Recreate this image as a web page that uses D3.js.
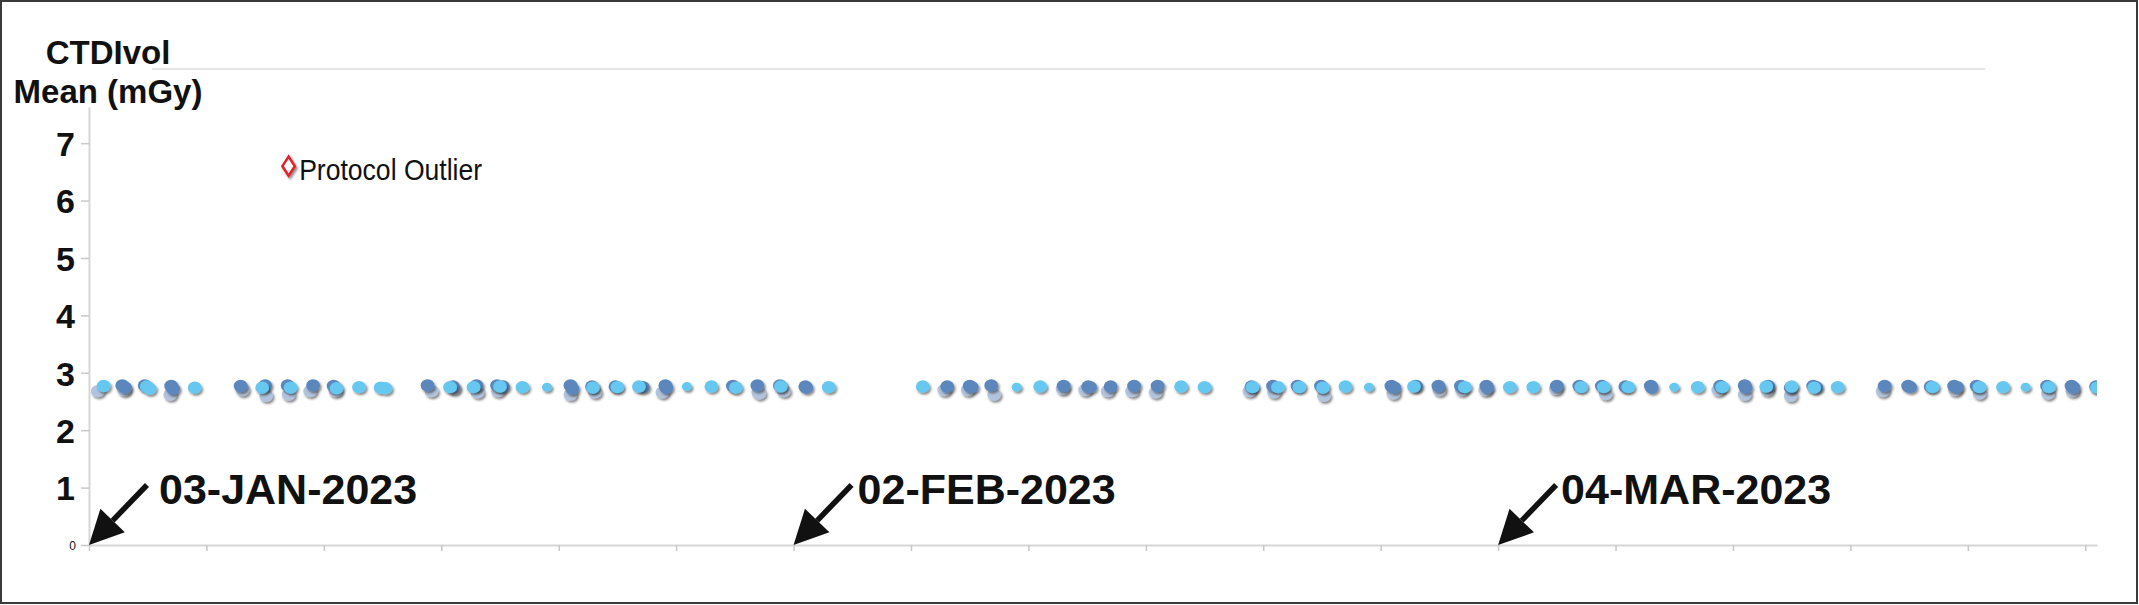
<!DOCTYPE html>
<html>
<head>
<meta charset="utf-8">
<script src="https://cdn.jsdelivr.net/npm/d3@7"></script>
<style>
  html, body { margin: 0; padding: 0; background: #fff; }
  svg { display: block; font-family: "Liberation Sans", Arial, Helvetica, sans-serif; }
</style>
</head>
<body>
<svg id="chart" width="2139" height="605"></svg>
<script>
// ---------------- data ----------------
const yTitleLines = ["CTDIvol", "Mean (mGy)"];
const yTickValues = [0, 1, 2, 3, 4, 5, 6, 7];
const xDomain = ["2023-01-03T00:00", "2023-03-29T12:00"];
const dateMarks = [
  { date: "2023-01-03", label: "03-JAN-2023" },
  { date: "2023-02-02", label: "02-FEB-2023" },
  { date: "2023-03-04", label: "04-MAR-2023" }
];
const outliers = [
  { time: "2023-01-11T12:00", value: 6.6, label: "Protocol Outlier" }
];
// [time, CTDIvol mean, exams (optional)]
const seriesPale = [
  ["2023-01-03T09:00",2.68],["2023-01-04T12:00",2.70],["2023-01-06T11:00",2.62],["2023-01-09T13:00",2.70],
  ["2023-01-10T13:00",2.60],["2023-01-11T12:00",2.62],["2023-01-12T10:00",2.68],["2023-01-13T12:00",2.68],
  ["2023-01-17T14:00",2.68],["2023-01-18T13:00",2.72],["2023-01-19T13:00",2.66],["2023-01-20T10:00",2.68],
  ["2023-01-23T12:00",2.62],["2023-01-24T13:00",2.66],["2023-01-27T10:00",2.66],["2023-01-31T13:00",2.64],
  ["2023-01-31T12:00",2.66],["2023-02-01T14:00",2.68],["2023-02-08T10:00",2.70],["2023-02-09T10:00",2.70],
  ["2023-02-10T13:00",2.62],["2023-02-13T11:00",2.72],["2023-02-14T10:00",2.70],["2023-02-15T09:00",2.68],
  ["2023-02-16T10:00",2.68],["2023-02-17T10:00",2.66],["2023-02-21T10:00",2.68],["2023-02-22T11:00",2.66],
  ["2023-02-24T14:00",2.60],["2023-02-27T13:00",2.64],["2023-03-01T12:00",2.70],["2023-03-02T11:00",2.70],
  ["2023-03-03T11:00",2.70],["2023-03-06T11:00",2.72],["2023-03-08T14:00",2.63],["2023-03-13T09:00",2.70],
  ["2023-03-14T12:00",2.62],["2023-03-15T11:00",2.70],["2023-03-16T11:00",2.60],["2023-03-20T09:00",2.68],
  ["2023-03-23T11:00",2.70],["2023-03-24T12:00",2.64],["2023-03-27T10:00",2.64],["2023-03-28T11:00",2.68]
];
const seriesSteel = [
  ["2023-01-04T10:00",2.78],["2023-01-04T13:00",2.74],["2023-01-05T09:00",2.78],["2023-01-06T12:00",2.77],
  ["2023-01-06T14:00",2.72],["2023-01-09T11:00",2.77],["2023-01-10T12:00",2.78],["2023-01-11T11:00",2.78],
  ["2023-01-12T13:00",2.78],["2023-01-13T10:00",2.77],["2023-01-17T10:00",2.78],["2023-01-18T12:00",2.76],
  ["2023-01-19T12:00",2.78],["2023-01-20T09:00",2.78],["2023-01-20T15:00",2.76],["2023-01-23T12:00",2.78],
  ["2023-01-23T14:00",2.72],["2023-01-24T10:00",2.76],["2023-01-25T10:00",2.76],["2023-01-26T14:00",2.75],
  ["2023-01-27T13:00",2.78],["2023-01-27T14:00",2.74],["2023-01-30T10:00",2.77],["2023-01-31T11:00",2.78],
  ["2023-02-01T10:00",2.78],["2023-02-02T12:00",2.76],["2023-02-02T13:00",2.74],["2023-02-08T13:00",2.76],
  ["2023-02-09T12:00",2.77],["2023-02-09T14:00",2.75],["2023-02-10T10:00",2.78],["2023-02-13T12:00",2.77],
  ["2023-02-14T13:00",2.76],["2023-02-14T15:00",2.75],["2023-02-15T12:00",2.76],["2023-02-16T12:00",2.77],
  ["2023-02-17T12:00",2.77],["2023-02-21T12:00",2.76],["2023-02-22T10:00",2.77],["2023-02-23T11:00",2.77],
  ["2023-02-24T11:00",2.77],["2023-02-27T11:00",2.77],["2023-02-27T14:00",2.74],["2023-02-28T12:00",2.77],
  ["2023-03-01T11:00",2.77],["2023-03-02T10:00",2.77],["2023-03-03T12:00",2.77],["2023-03-03T13:00",2.74],
  ["2023-03-06T12:00",2.77],["2023-03-07T11:00",2.77],["2023-03-08T10:00",2.77],["2023-03-09T10:00",2.76],
  ["2023-03-10T12:00",2.77],["2023-03-10T13:00",2.74],["2023-03-13T11:00",2.77],["2023-03-14T12:00",2.78],
  ["2023-03-14T13:00",2.74],["2023-03-15T12:00",2.77],["2023-03-16T11:00",2.74],["2023-03-17T10:00",2.77],
  ["2023-03-17T13:00",2.75],["2023-03-20T11:00",2.77],["2023-03-21T11:00",2.77],["2023-03-21T13:00",2.75],
  ["2023-03-22T10:00",2.76],["2023-03-23T10:00",2.77],["2023-03-23T13:00",2.75],["2023-03-24T09:00",2.77],
  ["2023-03-27T09:00",2.77],["2023-03-28T10:00",2.77],["2023-03-28T12:00",2.74],["2023-03-29T11:00",2.76]
];
const seriesCyan = [
  ["2023-01-03T15:00",2.77],["2023-01-05T11:00",2.76],["2023-01-05T14:00",2.72],["2023-01-07T12:00",2.74],
  ["2023-01-10T09:00",2.74],["2023-01-11T14:00",2.74],["2023-01-13T13:00",2.73],["2023-01-14T12:00",2.75],
  ["2023-01-15T10:00",2.74],["2023-01-15T15:00",2.73],["2023-01-18T09:00",2.75],["2023-01-19T09:00",2.75],
  ["2023-01-20T12:00",2.76],["2023-01-21T11:00",2.75],["2023-01-22T12:00",2.75,1],["2023-01-24T11:00",2.74],
  ["2023-01-25T12:00",2.75],["2023-01-26T10:00",2.76],["2023-01-28T11:00",2.76,1],["2023-01-29T12:00",2.76],
  ["2023-01-30T13:00",2.74],["2023-02-01T11:00",2.76],["2023-02-03T12:00",2.75],["2023-02-07T12:00",2.76],
  ["2023-02-11T12:00",2.75,1],["2023-02-12T12:00",2.76],["2023-02-18T12:00",2.76],["2023-02-19T12:00",2.75],
  ["2023-02-21T13:00",2.75],["2023-02-22T15:00",2.75],["2023-02-23T13:00",2.75],["2023-02-24T13:00",2.74],
  ["2023-02-25T12:00",2.76],["2023-02-26T12:00",2.75,1],["2023-02-28T10:00",2.76],["2023-03-02T14:00",2.75],
  ["2023-03-04T12:00",2.75],["2023-03-05T12:00",2.75],["2023-03-07T13:00",2.75],["2023-03-08T12:00",2.75],
  ["2023-03-09T13:00",2.75],["2023-03-11T12:00",2.75,1],["2023-03-12T12:00",2.75],["2023-03-13T13:00",2.75],
  ["2023-03-15T10:00",2.76],["2023-03-16T12:00",2.76],["2023-03-17T11:00",2.74],["2023-03-18T11:00",2.75],
  ["2023-03-22T12:00",2.75],["2023-03-24T12:00",2.75],["2023-03-25T12:00",2.75],["2023-03-26T11:00",2.75,1],
  ["2023-03-27T11:00",2.75],["2023-03-29T12:00",2.74]
];
const seriesList = [
  { name: "pale",  color: "#b2c4dd", points: seriesPale },
  { name: "steel", color: "#5b87bd", points: seriesSteel },
  { name: "cyan",  color: "#66c8f0", points: seriesCyan }
];

// ---------------- layout ----------------
const W = 2139, H = 605;
const plot = { left: 89, right: 2097, top: 107, bottom: 545 };
const labelDx = [70, 64, 63];   // horizontal offset of each date label from its arrow tip
const parse = d3.isoParse;
const svg = d3.select("#chart");

const x = d3.scaleTime().domain(xDomain.map(d => new Date(d))).range([plot.left, plot.right]);
const y = d3.scaleLinear().domain([0, 7.63]).range([plot.bottom, plot.top]);
const rx = d3.scaleThreshold().domain([2]).range([5, 6.9]);

const defs = svg.append("defs");
const f = defs.append("filter").attr("id", "shadow").attr("x", "-50%").attr("y", "-50%").attr("width", "200%").attr("height", "200%");
f.append("feDropShadow").attr("dx", 1.6).attr("dy", 2).attr("stdDeviation", 1.2)
  .attr("flood-color", "#2a2a2a").attr("flood-opacity", 0.55);
defs.append("clipPath").attr("id", "plotclip").append("rect")
  .attr("x", plot.left).attr("y", 0).attr("width", plot.right - plot.left).attr("height", plot.bottom);

// outer frame
svg.append("rect").attr("x", 1).attr("y", 1).attr("width", W - 3).attr("height", H - 3)
  .attr("fill", "#fff").attr("stroke", "#3a3a3a").attr("stroke-width", 2);

// faint top rule
svg.append("line").attr("x1", 152).attr("x2", 1985).attr("y1", 69).attr("y2", 69)
  .attr("stroke", "#e6e6e6").attr("stroke-width", 2);

// y title
svg.append("g").selectAll("text").data(yTitleLines).join("text")
  .attr("x", 108).attr("y", (d, i) => 64 + i * 39)
  .attr("text-anchor", "middle").attr("font-weight", "bold").attr("font-size", 33).attr("fill", "#111")
  .text(d => d);

// y axis
const yAxis = svg.append("g").attr("transform", `translate(${plot.left},0)`)
  .call(d3.axisLeft(y).tickValues(yTickValues).tickSize(8).tickSizeOuter(0).tickFormat(d3.format("d")));
yAxis.select(".domain").attr("stroke", "#d6d6d6").attr("stroke-width", 2);
yAxis.selectAll(".tick line").attr("stroke", "#c8c8c8").attr("stroke-width", 1.5);
yAxis.selectAll(".tick text")
  .attr("font-family", "'Liberation Sans', Arial, sans-serif")
  .attr("fill", "#111")
  .attr("font-weight", d => d === 0 ? "normal" : "bold")
  .attr("font-size", d => d === 0 ? 12 : 34)
  .attr("x", d => d === 0 ? -13 : -14)
  .attr("dy", "0.36em");

// x axis
const xTicks = d3.timeDay.range(new Date(xDomain[0]), new Date(xDomain[1]), 5);
const xAxis = svg.append("g").attr("transform", `translate(0,${plot.bottom})`)
  .call(d3.axisBottom(x).tickValues(xTicks).tickSize(6).tickSizeOuter(0).tickFormat(""));
xAxis.select(".domain").attr("stroke", "#d6d6d6").attr("stroke-width", 2);
xAxis.selectAll(".tick line").attr("stroke", "#c8c8c8").attr("stroke-width", 1.5);

// points
const pts = svg.append("g").attr("clip-path", "url(#plotclip)");
seriesList.forEach(s => {
  pts.append("g").attr("fill", s.color).attr("filter", "url(#shadow)")
    .selectAll("ellipse").data(s.points).join("ellipse")
    .attr("cx", d => x(parse(d[0])))
    .attr("cy", d => y(d[1]))
    .attr("rx", d => rx(d[2] ?? 3))
    .attr("ry", d => rx(d[2] ?? 3) * 0.9);
});

// outlier
const og = svg.append("g").selectAll("g").data(outliers).join("g")
  .attr("transform", d => `translate(${x(parse(d.time))},${y(d.value)})`);
og.append("path").attr("d", "M0,-9.5 L6.2,0 L0,9.5 L-6.2,0 Z")
  .attr("fill", "#fff").attr("stroke", "#e3232a").attr("stroke-width", 2.6)
  .attr("filter", "url(#shadow)");
og.append("text").attr("x", 10.5).attr("y", 14)
  .attr("font-size", 29).attr("fill", "#111")
  .attr("textLength", 183).attr("lengthAdjust", "spacingAndGlyphs")
  .text(d => d.label);

// date annotations with arrows
const ag = svg.append("g").selectAll("g").data(dateMarks).join("g")
  .attr("transform", d => `translate(${x(parse(d.date))},${plot.bottom})`);
const tail = [58, -60], L = 34, HW = 17;
const len = Math.hypot(tail[0], tail[1]);
const ux = -tail[0] / len, uy = -tail[1] / len;   // unit vector toward tip
const bx = -ux * L, by = -uy * L;                 // head base centre
const px = -uy, py = ux;
ag.append("line").attr("x1", tail[0]).attr("y1", tail[1]).attr("x2", bx).attr("y2", by)
  .attr("stroke", "#111").attr("stroke-width", 5.5);
ag.append("path")
  .attr("d", `M0,0 L${bx + px * HW},${by + py * HW} L${bx - px * HW},${by - py * HW} Z`)
  .attr("fill", "#111");
ag.append("text").attr("x", (d, i) => labelDx[i]).attr("y", -41)
  .attr("font-size", 43).attr("font-weight", "bold").attr("fill", "#111")
  .text(d => d.label);
</script>
</body>
</html>
